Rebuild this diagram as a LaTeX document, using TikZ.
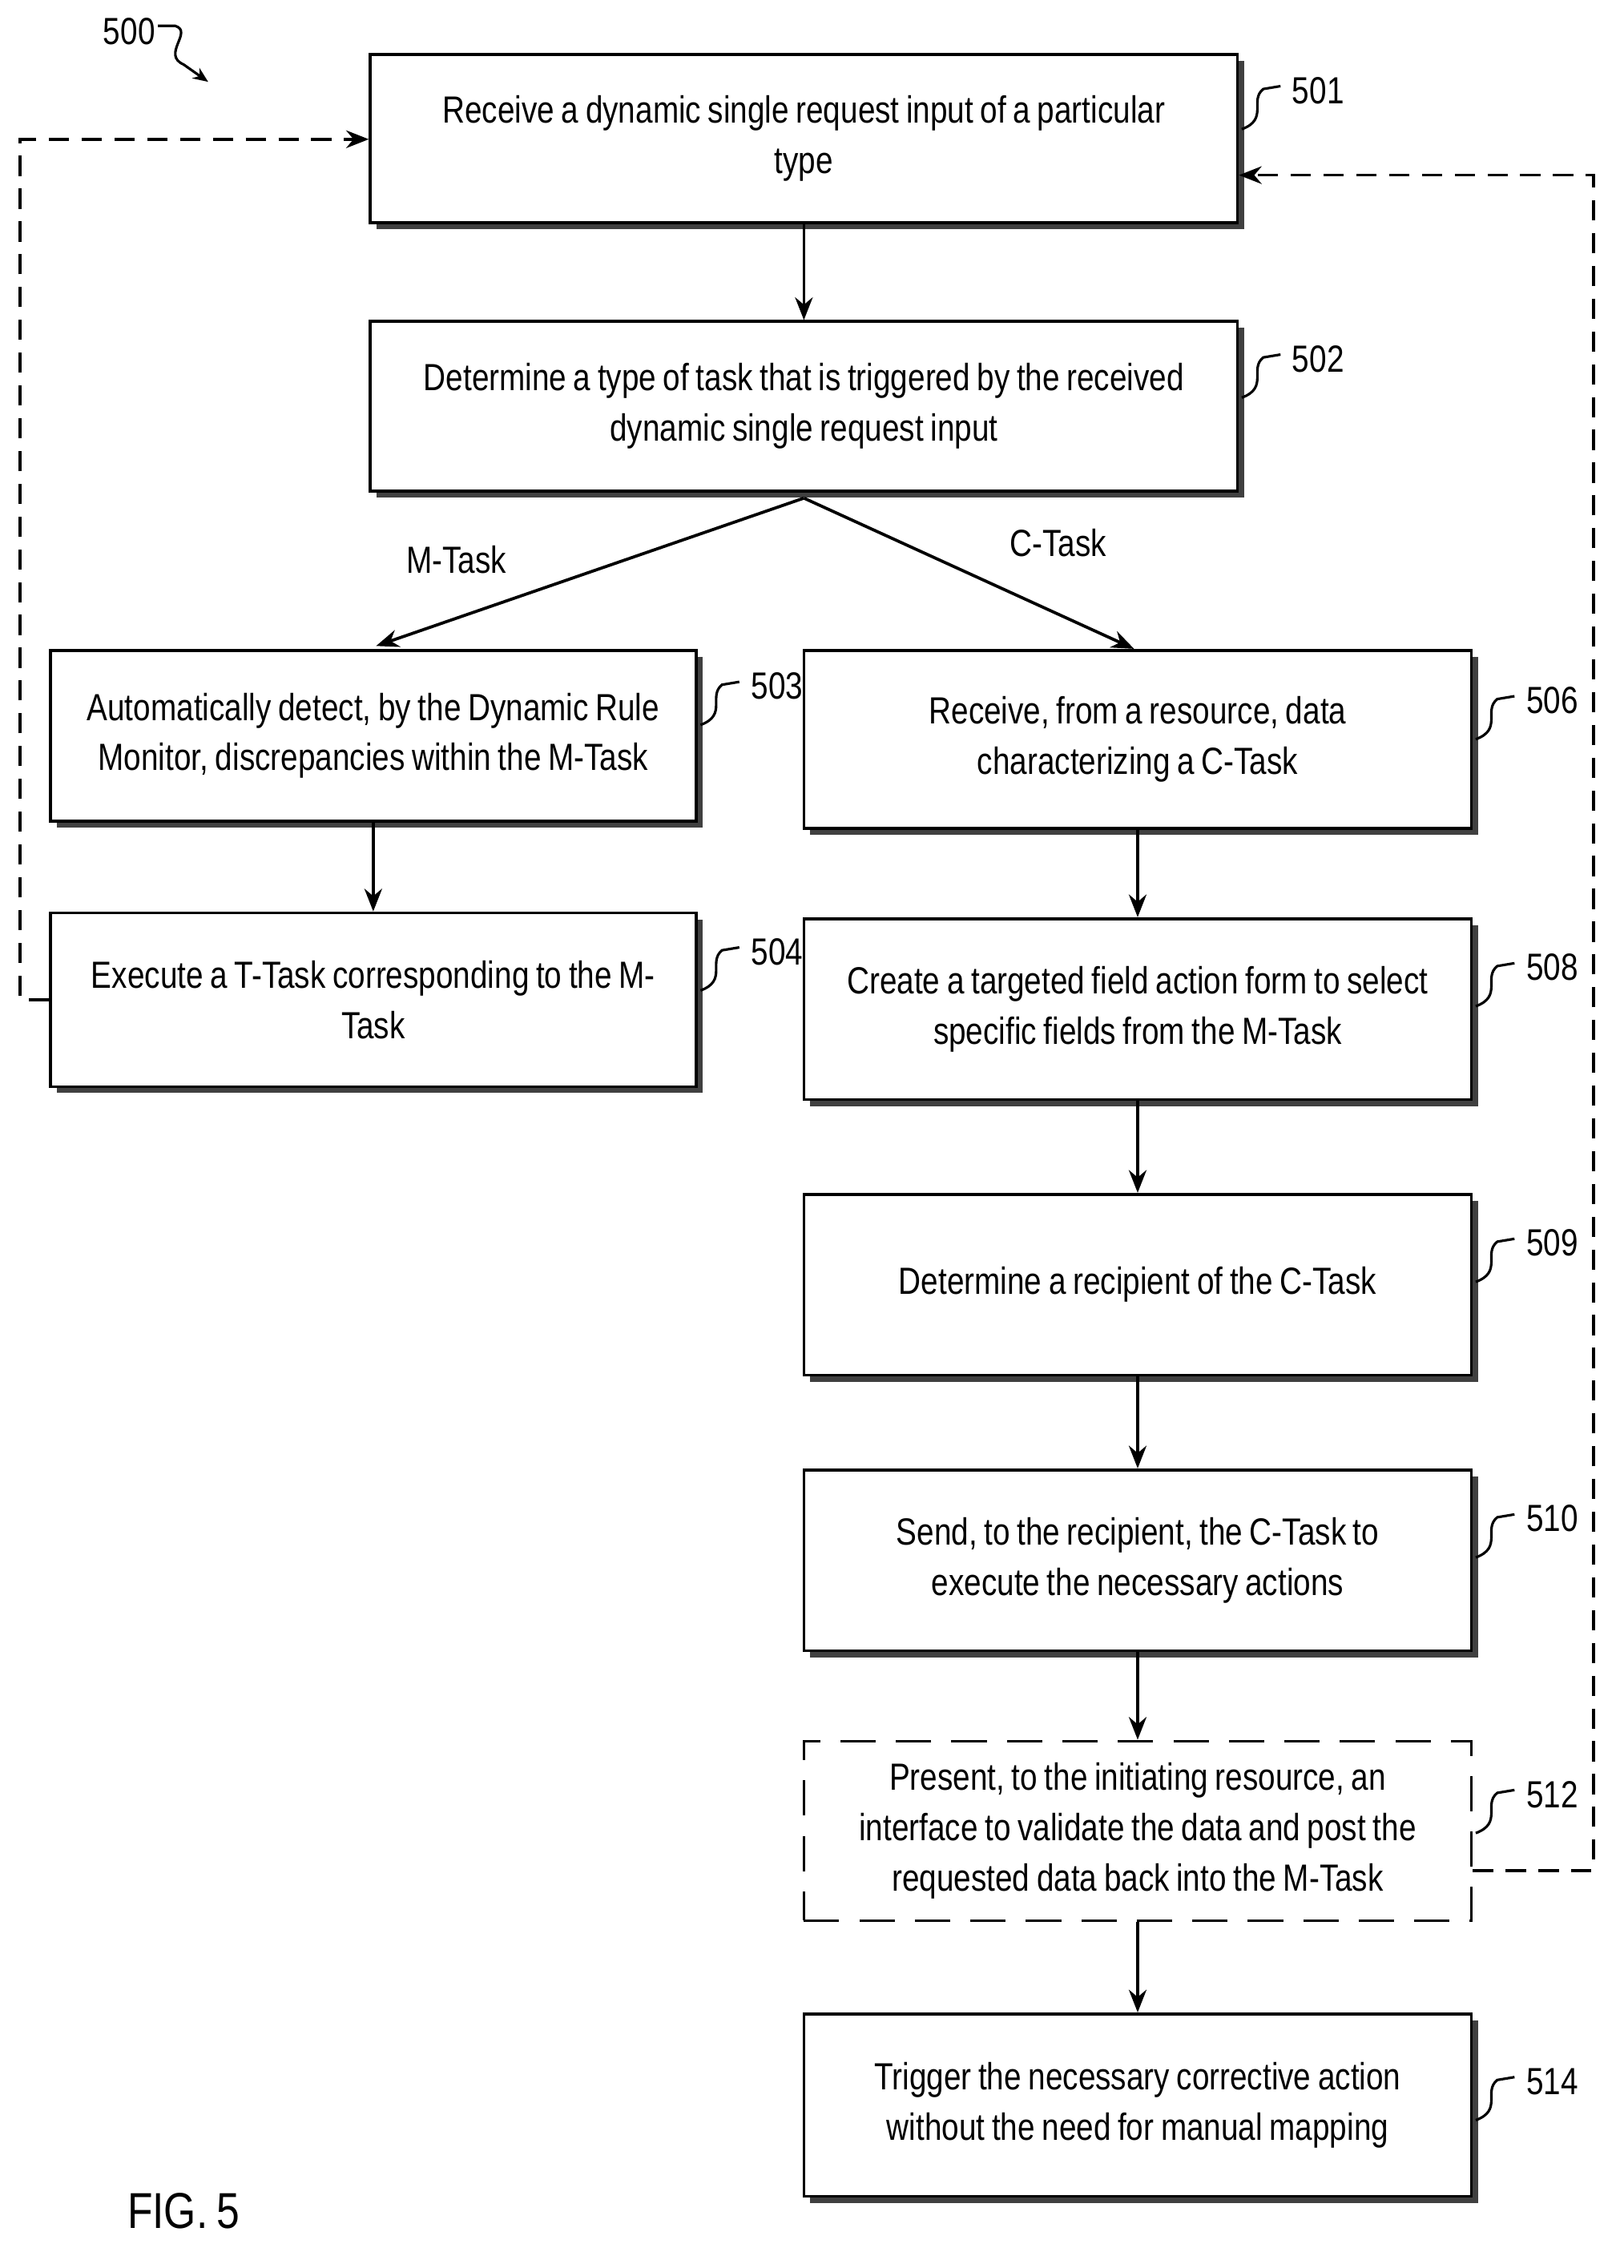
\documentclass[tikz,border=0pt]{standalone}
\usepackage{fontspec}
\setmainfont{Liberation Sans}[FakeStretch=0.82,WordSpace=0.8]
\usetikzlibrary{arrows.meta,shadows}
\begin{document}
\begin{tikzpicture}[x=0.02cm,y=-0.02cm,
  box/.style={draw,line width=1.2pt,fill=white,inner sep=0pt,
    drop shadow={shadow xshift=0.09cm,shadow yshift=-0.09cm,fill=black!75,opacity=1}},
  dbox/.style={draw,line width=1.2pt,dash pattern=on 14pt off 8pt,fill=white,inner sep=0pt},
  txt/.style={font=\fontsize{15}{20}\selectfont,align=center},
  arr/.style={line width=1.2pt,-{Stealth[length=9pt,width=7pt]}},
  darr/.style={line width=1.2pt,dash pattern=on 8pt off 5pt,-{Stealth[length=9pt,width=7pt]}},
  lab/.style={font=\fontsize{15}{16}\selectfont},
  sq/.style={line width=1pt}]
\useasboundingbox (0,0) rectangle (1131,1580);
\newcommand{\mybox}[6]{\node[#6,minimum width=(#4-#2)*0.02cm,minimum height=(#5-#3)*0.02cm] (#1) at ({(#2+#4)/2},{(#3+#5)/2}) {};}
\mybox{b501}{258}{38}{862}{155}{box}
\node[txt] at (b501) {Receive a dynamic single request input of a particular\\type};
\mybox{b502}{258}{224}{862}{342}{box}
\node[txt] at (b502) {Determine a type of task that is triggered by the received\\dynamic single request input};
\mybox{b503}{35}{453}{485}{572}{box}
\node[txt] at (b503) {Automatically detect, by the Dynamic Rule\\Monitor, discrepancies within the M-Task};
\mybox{b504}{35}{636}{485}{757}{box}
\node[txt] at (b504) {Execute a T-Task corresponding to the M-\\Task};
\mybox{b506}{560}{453}{1025}{577}{box}
\node[txt] at (b506) {Receive, from a resource, data\\characterizing a C-Task};
\mybox{b508}{560}{640}{1025}{766}{box}
\node[txt] at (b508) {Create a targeted field action form to select\\specific fields from the M-Task};
\mybox{b509}{560}{832}{1025}{958}{box}
\node[txt] at (b509) {Determine a recipient of the C-Task};
\mybox{b510}{560}{1024}{1025}{1150}{box}
\node[txt] at (b510) {Send, to the recipient, the C-Task to\\execute the necessary actions};
\mybox{b512}{560}{1213}{1025}{1338}{dbox}
\node[txt] at (b512) {Present, to the initiating resource, an\\interface to validate the data and post the\\requested data back into the M-Task};
\mybox{b514}{560}{1403}{1025}{1530}{box}
\node[txt] at (b514) {Trigger the necessary corrective action\\without the need for manual mapping};
\foreach \n/\x/\y in {501/862/75,502/862/262,503/485/490,504/485/675,506/1025/500,508/1025/686,509/1025/878,510/1025/1070,512/1025/1262,514/1025/1462}{
  \draw[sq] (\x+3,\y+15) .. controls (\x+22,\y+8) and (\x+8,\y-5) .. (\x+18,\y-13) -- (\x+30,\y-15);
  \node[lab,anchor=west] (n\n) at (\x+32,\y-12) {\n};
}
\node[lab] (n500) at (90,22) {500};
\coordinate (t500) at (145,57);
\draw[sq,-{Stealth[length=6pt,width=5pt]}] (110,18) -- (122,18) .. controls (135,22) and (112,38) .. (128,45) -- (t500);
\node[font=\fontsize{20}{24}\selectfont] (fig) at (128,1540) {FIG. 5};
\draw[arr] (b501.south) -- (b502.north);
\coordinate (s502) at (560,347);
\coordinate (t503) at (262,450);
\coordinate (t506) at (790,452);
\draw[arr] (s502) -- (t503);
\draw[arr] (s502) -- (t506);
\node[lab] (lm) at (318,390) {M-Task};
\node[lab] (lc) at (737,378) {C-Task};
\draw[arr] (b503.south) -- (b504.north);
\draw[arr] (b506.south) -- (b508.north);
\draw[arr] (b508.south) -- (b509.north);
\draw[arr] (b509.south) -- (b510.north);
\draw[arr] (b510.south) -- (b512.north);
\draw[arr] (b512.south) -- (b514.north);
\draw[darr] (b504.west) -- (14,696.5) |- (b501.west |- 0,97);
\draw[darr] (b512.east |- 0,1303) -- (1110,1303) |- (b501.east |- 0,122);
\end{tikzpicture}
\end{document}
